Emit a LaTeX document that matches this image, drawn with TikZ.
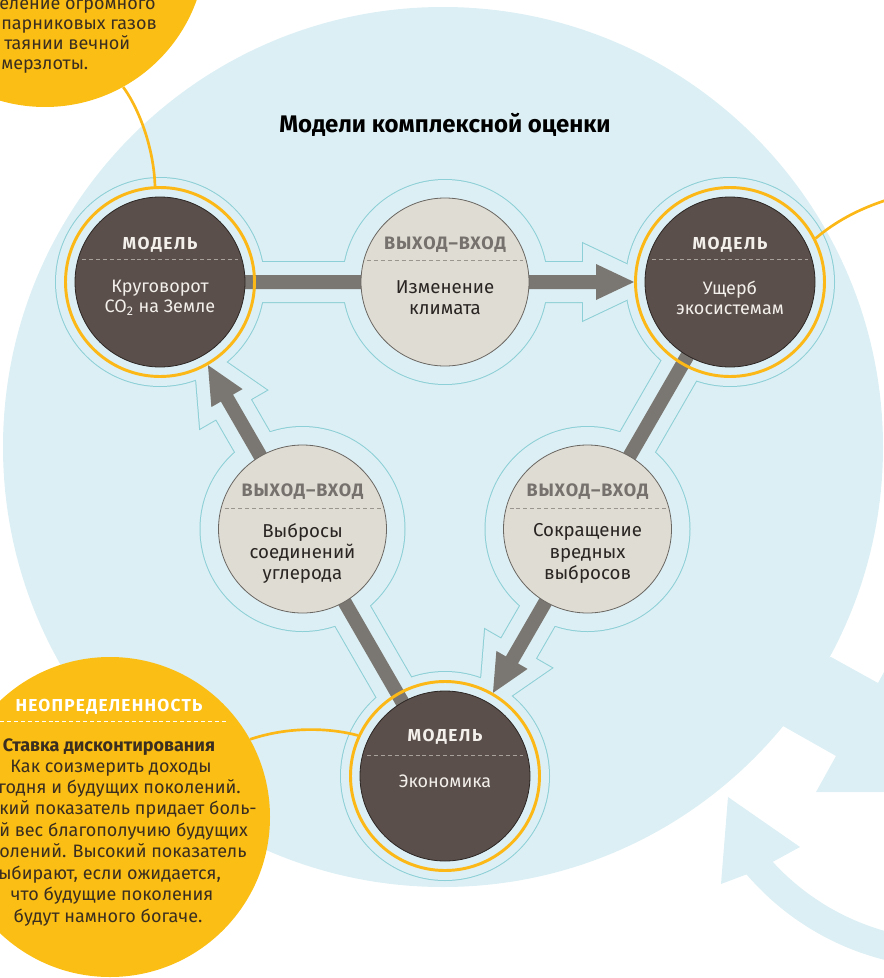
\documentclass[tikz,border=0pt]{standalone}
\usepackage{fontspec}
\setmainfont{Fira Sans}
\usetikzlibrary{calc}
\definecolor{bgblue}{HTML}{DCEFF4}
\definecolor{cyanline}{HTML}{8CCFD6}
\definecolor{darkc}{HTML}{5A4F4A}
\definecolor{darkedge}{HTML}{2C2624}
\definecolor{ringy}{HTML}{FBB817}
\definecolor{cally}{HTML}{FBBE14}
\definecolor{shaftg}{HTML}{7A7671}
\definecolor{midfill}{HTML}{DEDCD3}
\definecolor{midedge}{HTML}{6A6662}
\definecolor{midlabc}{HTML}{76716D}
\definecolor{lighttext}{HTML}{F3EFEB}
\definecolor{darktext}{HTML}{2A2523}
\definecolor{calltext}{HTML}{3A2E20}
\definecolor{sepdark}{HTML}{A8A19C}
\definecolor{sepmid}{HTML}{9A968F}
\pgfdeclarelayer{layA}\pgfdeclarelayer{layB}\pgfdeclarelayer{layC}
\pgfsetlayers{layA,layB,layC,main}
\newcommand\mkarrow[3]{%
 \path ($(#3)!28.5pt!(#2)$) coordinate (#1b)
   ($(#2)!5.25pt!90:(#3)$) coordinate (#1s1)
   ($(#2)!5.25pt!-90:(#3)$) coordinate (#1s2)
   (#3) coordinate (#1t);
 \path ($(#1b)!5.25pt!90:(#3)$) coordinate (#1b1)
   ($(#1b)!5.25pt!-90:(#3)$) coordinate (#1b2)
   ($(#1b)!13.5pt!90:(#3)$) coordinate (#1h1)
   ($(#1b)!13.5pt!-90:(#3)$) coordinate (#1h2);
}
\begin{document}
\begin{tikzpicture}[x=0.75pt,y=-0.75pt,
  darknode/.style={circle, fill=darkc, draw=darkedge, line width=0.6pt, minimum size=127.5pt, inner sep=0pt},
  midnode/.style={circle, fill=midfill, draw=midedge, line width=0.6pt, minimum size=126pt, inner sep=0pt},
  ringnode/.style={circle, draw=ringy, line width=2.2pt, minimum size=141.75pt, inner sep=0pt},
  callout/.style={circle, fill=cally, inner sep=0pt},
  oneline/.style={text height=10pt, text depth=3pt, inner sep=0pt},
  modlab/.style={oneline, font={\bfseries\fontsize{13}{15}\selectfont\addfontfeature{LetterSpace=9}}, text=lighttext},
  modtxt/.style={font={\fontsize{13.5}{15}\selectfont}, text=lighttext, align=center},
  midlab/.style={oneline, font={\bfseries\fontsize{13.5}{15}\selectfont\addfontfeature{LetterSpace=5}}, text=midlabc},
  midtxt/.style={font={\fontsize{14}{16}\selectfont}, text=darktext, align=center},
  sepd/.style={draw=sepdark, line width=0.75pt, dash pattern=on 3pt off 2.2pt},
  sepm/.style={draw=sepmid, line width=0.75pt, dash pattern=on 3pt off 2.2pt},
  calltxt/.style={oneline, font={\fontsize{13.5}{16}\selectfont}, text=calltext},
  callhead/.style={oneline, font={\bfseries\fontsize{13}{15}\selectfont\addfontfeature{LetterSpace=7}}, text=white},
  titlestyle/.style={font={\bfseries\fontsize{18}{22}\selectfont}, text=black},
  conn/.style={draw=ringy, line width=2pt},
  outl/.style={draw=cyanline, line width=1.5pt},
]
\useasboundingbox (0,0) rectangle (884,978);
\clip (0,0) rectangle (884,978);

% ---- nodes (main layer)
\node[darknode] (A) at (160,282) {};
\node[darknode] (B) at (730,282) {};
\node[darknode] (C) at (445,776) {};
\node[midnode] (M1) at (445,282) {};
\node[midnode] (M2) at (587.5,529) {};
\node[midnode] (M3) at (302.5,529) {};
\node[ringnode] (Ar) at (A.center) {};
\node[ringnode] (Br) at (B.center) {};
\node[ringnode] (Cr) at (C.center) {};

% ---- background
\begin{pgfonlayer}{layA}
  \fill[bgblue] (443,447) circle[radius=440];
  \fill[bgblue] (831,657) -- (878,683) -- (884,672) -- (900,672) -- (900,792) -- (816,792) -- (836,756) -- (783,726) -- (750,680) -- cycle;
  \fill[bgblue] (728,797) -- (800,847) -- ($(950,700)+(137.6:240)$) arc[start angle=137.6, end angle=95, radius=240]
     -- ($(950,700)+(95:268)$) arc[start angle=95, end angle=139.4, radius=268] -- (721,884) -- cycle;
  \node[callout, minimum size=241.5pt] (tlcall) at (45,-54) {};
  \node[callout, minimum size=240pt] (blcall) at (110,817) {};
\end{pgfonlayer}

% ---- arrow geometry
\path ($(B.center)!72pt!(A.center)$) coordinate (tipab)
      ($(C.center)!72pt!(B.center)$) coordinate (tipbc)
      ($(A.center)!72pt!(C.center)$) coordinate (tipca);
\mkarrow{ab}{A.center}{tipab}
\mkarrow{bc}{B.center}{tipbc}
\mkarrow{ca}{C.center}{tipca}

% ---- cyan outline of the union
\begin{pgfonlayer}{layB}
  \foreach \n in {A,B,C} \draw[outl] (\n.center) circle[radius=104];
  \foreach \n in {M1,M2,M3} \draw[outl] (\n.center) circle[radius=102];
  \foreach \p in {ab,bc,ca}
    \draw[cyanline, line width=21pt, line join=miter]
      (\p s1) -- (\p b1) -- (\p h1) -- (\p t) -- (\p h2) -- (\p b2) -- (\p s2) -- cycle;
  \foreach \n in {A,B,C} \fill[bgblue] (\n.center) circle[radius=104];
  \foreach \n in {M1,M2,M3} \fill[bgblue] (\n.center) circle[radius=102];
  \foreach \p in {ab,bc,ca}
    \filldraw[bgblue, line width=19.5pt, line join=miter]
      (\p s1) -- (\p b1) -- (\p h1) -- (\p t) -- (\p h2) -- (\p b2) -- (\p s2) -- cycle;
\end{pgfonlayer}

% ---- grey arrows
\begin{pgfonlayer}{layC}
  \foreach \p in {ab,bc,ca}
    \fill[shaftg] (\p s1) -- (\p b1) -- (\p h1) -- (\p t) -- (\p h2) -- (\p b2) -- (\p s2) -- cycle;
\end{pgfonlayer}

% ---- title
\node[titlestyle] (title) at (445,125) {Модели комплексной оценки};

% ---- model texts
\node[modlab] (Alab) at (160,245) {МОДЕЛЬ};
\draw[sepd] ($(A.center)+(-78,-23)$) -- ++(156,0);
\node[modtxt] (Atxt) at (160,298) {Круговорот\\CO\textsubscript{2} на Земле};

\node[modlab] (Blab) at (730,245) {МОДЕЛЬ};
\draw[sepd] ($(B.center)+(-78,-23)$) -- ++(156,0);
\node[modtxt] (Btxt) at (730,298) {Ущерб\\экосистемам};

\node[modlab] (Clab) at (445,737) {МОДЕЛЬ};
\draw[sepd] ($(C.center)+(-78,-21)$) -- ++(156,0);
\node[modtxt, oneline] (Ctxt) at (445,783) {Экономика};

% ---- middle texts
\node[midlab] (M1lab) at (445,245) {ВЫХОД–ВХОД};
\draw[sepm] ($(M1.center)+(-78,-22)$) -- ++(156,0);
\node[midtxt] (M1txt) at (445,298) {Изменение\\климата};

\node[midlab] (M3lab) at (302.5,492) {ВЫХОД–ВХОД};
\draw[sepm] ($(M3.center)+(-78,-21)$) -- ++(156,0);
\node[midtxt] (M3txt) at (302.5,553.5) {Выбросы\\соединений\\углерода};

\node[midlab] (M2lab) at (587.5,492) {ВЫХОД–ВХОД};
\draw[sepm] ($(M2.center)+(-78,-21)$) -- ++(156,0);
\node[midtxt] (M2txt) at (587.5,553.5) {Сокращение\\вредных\\выбросов};

% ---- top-left callout text
\node[calltxt, anchor=west] (t1) at (-1,5) {еление огромного};
\node[calltxt, anchor=west] (t2) at (1,25) {парниковых газов};
\node[calltxt, anchor=west] (t3) at (4,45) {таянии вечной};
\node[calltxt, anchor=west] (t4) at (1,65) {мерзлоты.};

% ---- bottom-left callout text
\node[callhead] (u0) at (109,707) {НЕОПРЕДЕЛЕННОСТЬ};
\draw[draw=white, line width=0.75pt, dash pattern=on 3pt off 2.2pt] (0,721) -- (227,721);
\node[calltxt, font={\bfseries\fontsize{13.5}{16}\selectfont}] (u1) at (109,747) {Ставка дисконтирования};
\node[calltxt] (u2) at (111,768) {Как соизмерить доходы};
\node[calltxt, anchor=west] (u3) at (-2,789) {годня и будущих поколений.};
\node[calltxt, anchor=west] (u4) at (-1,810) {кий показатель придает боль-};
\node[calltxt, anchor=west] (u5) at (-1,832) {й вес благополучию будущих};
\node[calltxt, anchor=west] (u6) at (-1,853) {олений. Высокий показатель};
\node[calltxt, anchor=west] (u7) at (-2,875) {ыбирают, если ожидается,};
\node[calltxt] (u8) at (112,896) {что будущие поколения};
\node[calltxt] (u9) at (108,918) {будут намного богаче.};

% ---- yellow connectors
\coordinate (rightend) at (900,196);
\draw[conn] (tlcall.-61) .. controls (140,110) and (154,150) .. (Ar.93);
\draw[conn] (Br.27) .. controls (835,222) and (860,207) .. (rightend);
\draw[conn] (blcall.29) .. controls (290,726) and (330,728) .. (Cr.155);
\end{tikzpicture}
\end{document}
